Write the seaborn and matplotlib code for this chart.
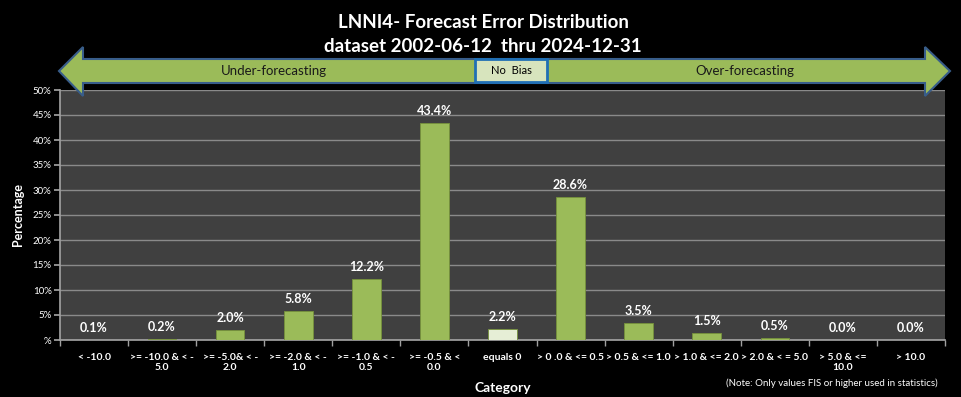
import matplotlib
matplotlib.use("Agg")
import matplotlib.pyplot as plt
from matplotlib.patches import Polygon, Rectangle
import seaborn as sns

# datos
categorias = ["< -10.0", ">= -10.0 & < -\n5.0", ">= -5.0& < -\n2.0", ">= -2.0 & < -\n1.0",
              ">= -1.0 & < -\n0.5", ">= -0.5 & <\n0.0", "equals 0", "> 0 .0 & <= 0.5",
              "> 0.5 & <= 1.0", "> 1.0 & <= 2.0", "> 2.0 & < = 5.0", "> 5.0 & <=\n10.0", "> 10.0"]
porcentajes = [0.1, 0.2, 2.0, 5.8, 12.2, 43.4, 2.2, 28.6, 3.5, 1.5, 0.5, 0.0, 0.0]
colores = ["#9bbb59"] * 6 + ["#e6eed6"] + ["#9bbb59"] * 6
ytick_vals = [0, 5, 10, 15, 20, 25, 30, 35, 40, 45, 50]
ytick_labels = ["%"] + [f"{v}%" for v in ytick_vals[1:]]

sns.set_theme(style="dark")
plt.rcParams["font.family"] = ["Lato", "DejaVu Sans"]

W, H = 961, 397
fig = plt.figure(figsize=(W / 100, H / 100), dpi=100, facecolor="black")
ax = fig.add_axes([60 / W, 1 - 340 / H, 885 / W, 250 / H])
ax.set_facecolor("#404040")

sns.barplot(x=categorias, y=porcentajes, hue=categorias, palette=colores, legend=False,
            saturation=1, width=0.42, ax=ax, edgecolor="#76923c", linewidth=0.6, zorder=3)

for i, v in enumerate(porcentajes):
    ax.annotate(f"{v:.1f}%", (i, v), xytext=(0, 4), textcoords="offset points",
                ha="center", va="bottom", color="white", fontsize=9, fontweight="bold")

ax.set_ylim(0, 50)
ax.set_xlim(-0.5, len(categorias) - 0.5)
ax.set_yticks(ytick_vals)
ax.set_yticklabels(ytick_labels, color="white", fontsize=7)
ax.yaxis.grid(True, color="#8a8a8a", linewidth=1, zorder=0)
ax.xaxis.grid(False)
ax.set_xticks(range(len(categorias)))
ax.set_xticklabels(categorias, color="white", fontsize=7.5, fontweight="bold")
ax.set_xticks([i - 0.5 for i in range(len(categorias) + 1)], minor=True)
ax.tick_params(axis="x", which="major", length=0, pad=9)
ax.tick_params(axis="x", which="minor", length=4, color="#a0a0a0", direction="out", bottom=True)
ax.tick_params(axis="y", length=4, color="#a0a0a0", direction="out", left=True, pad=2)
for s in ["top", "right"]:
    ax.spines[s].set_visible(False)
ax.spines["left"].set_color("#a0a0a0")
ax.spines["bottom"].set_color("#a0a0a0")

ax.set_ylabel("Percentage", color="white", fontsize=9, fontweight="bold", labelpad=6)
ax.set_xlabel("Category", color="white", fontsize=10, fontweight="bold")
ax.xaxis.set_label_coords(0.5, -0.17)

fig.text(483 / W, 1 - 22 / H, "LNNI4- Forecast Error Distribution", ha="center", va="center",
         color="white", fontsize=13.5, fontweight="bold")
fig.text(483 / W, 1 - 47 / H, "dataset 2002-06-12  thru 2024-12-31", ha="center", va="center",
         color="white", fontsize=13.5, fontweight="bold")
fig.text(938 / W, 1 - 383 / H, "(Note: Only values FIS or higher used in statistics)", ha="right",
         va="center", color="white", fontsize=7)

# flecha doble de sesgo
pts = [(59, 71), (83, 47), (83, 59), (925, 59), (925, 47), (950, 71), (925, 96),
       (925, 83), (83, 83), (83, 96)]
pts = [(x / W, 1 - y / H) for x, y in pts]
fig.add_artist(Polygon(pts, closed=True, transform=fig.transFigure, facecolor="#9bbb59",
                       edgecolor="#385d8a", linewidth=1.5, zorder=5))
fig.add_artist(Rectangle((475 / W, 1 - 82 / H), 72 / W, 23 / H, transform=fig.transFigure,
                         facecolor="#d7e4bd", edgecolor="#1f6fb5", linewidth=2, zorder=6))
fig.text(511 / W, 1 - 71 / H, "No  Bias", ha="center", va="center", color="black", fontsize=8, zorder=7)
fig.text(274 / W, 1 - 71 / H, "Under-forecasting", ha="center", va="center", color="#1a1a1a",
         fontsize=9.5, zorder=7)
fig.text(745 / W, 1 - 71 / H, "Over-forecasting", ha="center", va="center", color="#1a1a1a",
         fontsize=9.5, zorder=7)

fig.savefig("out.png", dpi=100, facecolor="black")
